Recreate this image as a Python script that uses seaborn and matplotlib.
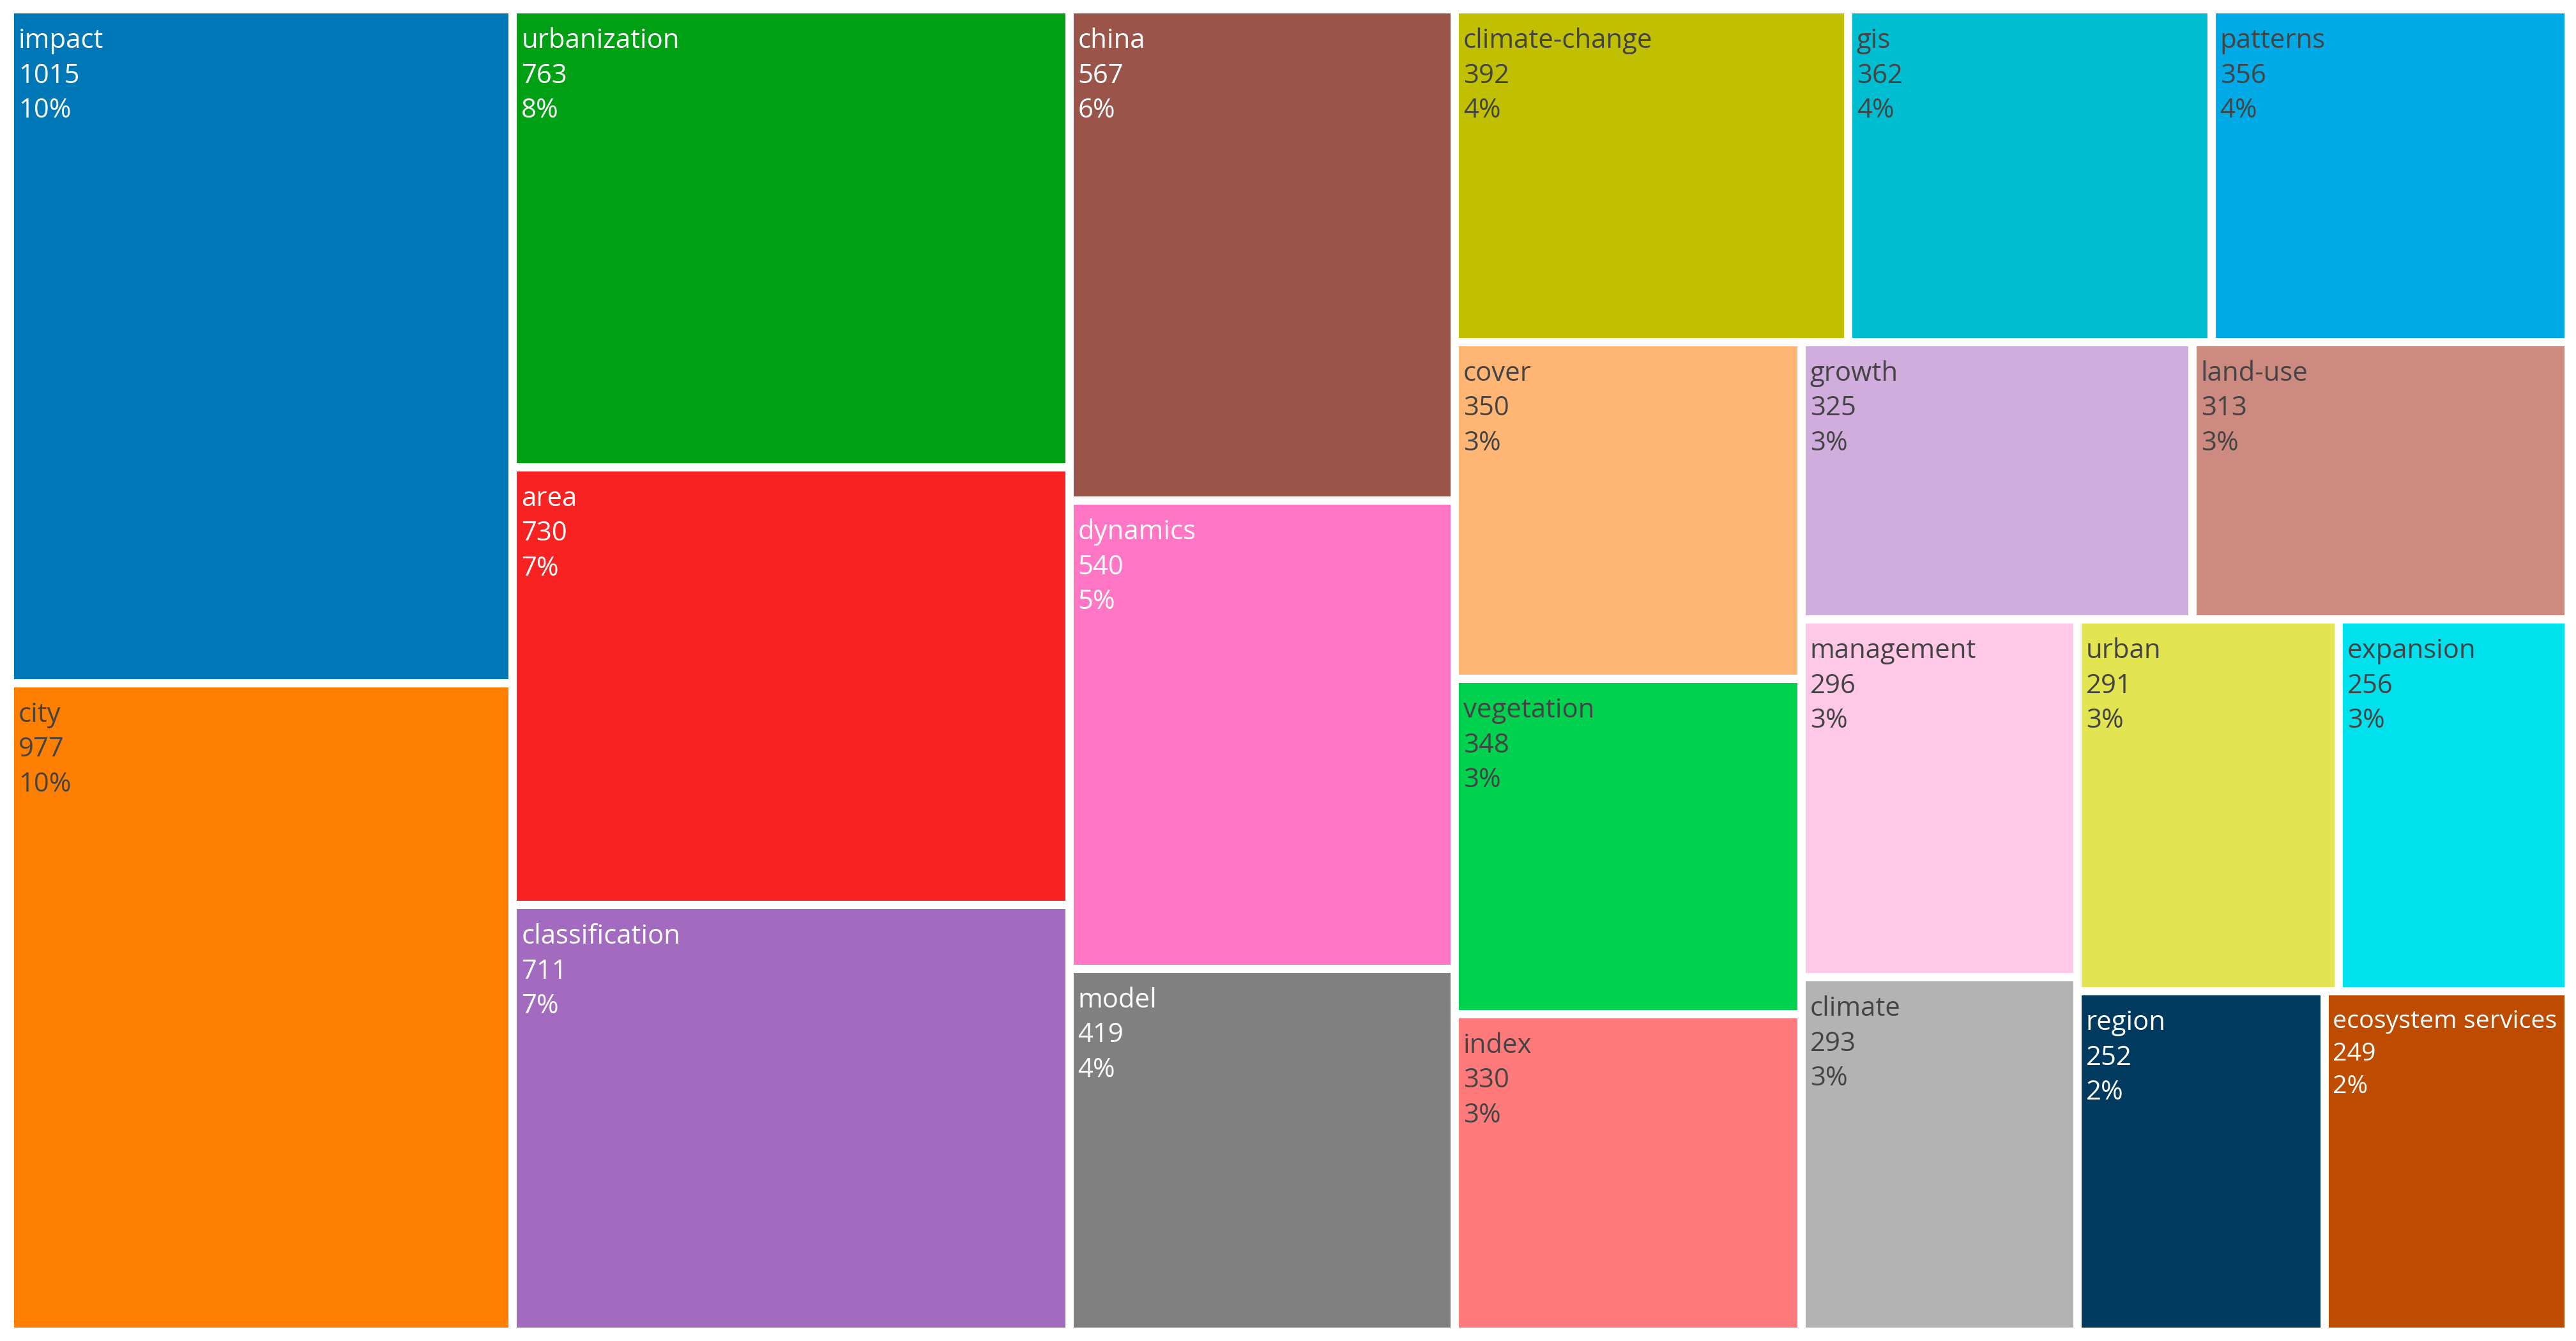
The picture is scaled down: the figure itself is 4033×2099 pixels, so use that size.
import matplotlib
matplotlib.use("Agg")
import matplotlib.pyplot as plt
import seaborn as sns
from matplotlib.patches import Rectangle

# keyword counts
labels = ["impact", "city", "urbanization", "area", "classification", "china",
          "dynamics", "model", "climate-change", "gis", "patterns", "cover",
          "vegetation", "index", "growth", "land-use", "management", "climate",
          "urban", "expansion", "region", "ecosystem services"]
counts = [1015, 977, 763, 730, 711, 567, 540, 419, 392, 362, 356, 350,
          348, 330, 325, 313, 296, 293, 291, 256, 252, 249]
colors = ["#0077B6", "#FF8000", "#00A014", "#F82222", "#A26BC0", "#9B5449",
          "#FF77C4", "#808080", "#C0C000", "#00BED2", "#00AAE6", "#FFB574",
          "#00D250", "#FF7B7B", "#D1ADDD", "#CC8A80", "#FFC8E6", "#B3B3B3",
          "#E2E452", "#00E1EE", "#003A5E", "#BD4C00"]
text_colors = ["white", "#444444", "white", "white", "white", "white",
               "white", "white", "#444444", "#444444", "#444444", "#444444",
               "#444444", "#444444", "#444444", "#444444", "#444444", "#444444",
               "#444444", "#444444", "white", "white"]


def squarify(values, x0, y0, x1, y1, ratio=1.0):
    # squarified treemap (same rule as d3 / plotly)
    rects = []
    value = float(sum(values))
    n = len(values)
    i0 = i1 = 0
    while i0 < n:
        dx, dy = x1 - x0, y1 - y0
        sum_v = values[i1]
        i1 += 1
        min_v = max_v = sum_v
        alpha = max(dy / dx, dx / dy) / (value * ratio)
        beta = sum_v * sum_v * alpha
        min_ratio = max(max_v / beta, beta / min_v)
        while i1 < n:
            v = values[i1]
            s = sum_v + v
            mn, mx = min(min_v, v), max(max_v, v)
            beta = s * s * alpha
            new_ratio = max(mx / beta, beta / mn)
            if new_ratio > min_ratio:
                break
            sum_v, min_v, max_v, min_ratio = s, mn, mx, new_ratio
            i1 += 1
        row = values[i0:i1]
        if dx < dy:
            h = dy * sum_v / value
            xx = x0
            for v in row:
                w = dx * v / sum_v
                rects.append((xx, y0, w, h))
                xx += w
            y0 += h
        else:
            w = dx * sum_v / value
            yy = y0
            for v in row:
                h = dy * v / sum_v
                rects.append((x0, yy, w, h))
                yy += h
            x0 += w
        value -= sum_v
        i0 = i1
    return rects


sns.set_theme(style="white")
plt.rcParams['font.family'] = ['Open Sans', 'DejaVu Sans']

W, H = 4033, 2099
fig = plt.figure(figsize=(W / 100, H / 100), dpi=100)
ax = fig.add_axes([0, 0, 1, 1])
ax.set_xlim(0, W)
ax.set_ylim(H, 0)
ax.axis("off")
renderer = fig.canvas.get_renderer()

gap = 13
left, top, right, bottom = 22, 21, 4015, 2078
rects = squarify(counts, left - gap / 2, top - gap / 2, right + gap / 2, bottom + gap / 2)
total = sum(counts)
base_size = 30.2

for lab, cnt, col, tcol, (x, y, w, h) in zip(labels, counts, colors, text_colors, rects):
    x, y, w, h = x + gap / 2, y + gap / 2, w - gap, h - gap
    ax.add_patch(Rectangle((x, y), w, h, facecolor=col, edgecolor="none"))
    lines = [lab, str(cnt), f"{round(100 * cnt / total)}%"]
    texts = [ax.text(x + 7, y, line, color=tcol, fontsize=base_size,
                     ha="left", va="baseline") for line in lines]
    # shrink the label block if it is wider than the tile
    widest = max(t.get_window_extent(renderer).width for t in texts)
    scale = min(1.0, (w - 18) / widest)
    for k, t in enumerate(texts):
        t.set_fontsize(base_size * scale)
        t.set_position((x + 7 * scale, y + (54 + k * 54.5) * scale))

fig.savefig("out.png", dpi=100, facecolor="white")
